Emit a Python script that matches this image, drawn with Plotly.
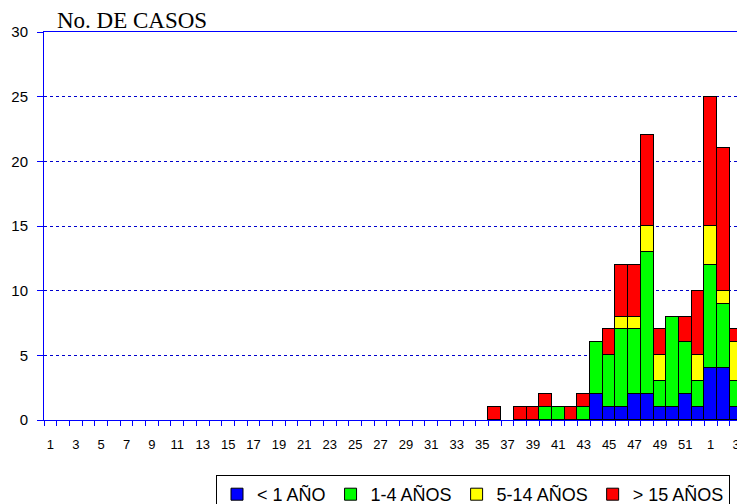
import plotly.graph_objects as go

week_labels = ["1", "2", "3", "4", "5", "6", "7", "8", "9", "10",
               "11", "12", "13", "14", "15", "16", "17", "18", "19", "20",
               "21", "22", "23", "24", "25", "26", "27", "28", "29", "30",
               "31", "32", "33", "34", "35", "36", "37", "38", "39", "40",
               "41", "42", "43", "44", "45", "46", "47", "48", "49", "50",
               "51", "52", "1", "2", "3"]

menos_1 = [0, 0, 0, 0, 0, 0, 0, 0, 0, 0,
           0, 0, 0, 0, 0, 0, 0, 0, 0, 0,
           0, 0, 0, 0, 0, 0, 0, 0, 0, 0,
           0, 0, 0, 0, 0, 0, 0, 0, 0, 0,
           0, 0, 0, 2, 1, 1, 2, 2, 1, 1,
           2, 1, 4, 4, 1]
de_1_4 = [0, 0, 0, 0, 0, 0, 0, 0, 0, 0,
          0, 0, 0, 0, 0, 0, 0, 0, 0, 0,
          0, 0, 0, 0, 0, 0, 0, 0, 0, 0,
          0, 0, 0, 0, 0, 0, 0, 0, 0, 1,
          1, 0, 1, 4, 4, 6, 5, 11, 2, 7,
          4, 2, 8, 5, 2]
de_5_14 = [0, 0, 0, 0, 0, 0, 0, 0, 0, 0,
           0, 0, 0, 0, 0, 0, 0, 0, 0, 0,
           0, 0, 0, 0, 0, 0, 0, 0, 0, 0,
           0, 0, 0, 0, 0, 0, 0, 0, 0, 0,
           0, 0, 0, 0, 0, 1, 1, 2, 2, 0,
           0, 2, 3, 1, 3]
mas_15 = [0, 0, 0, 0, 0, 0, 0, 0, 0, 0,
          0, 0, 0, 0, 0, 0, 0, 0, 0, 0,
          0, 0, 0, 0, 0, 0, 0, 0, 0, 0,
          0, 0, 0, 0, 0, 1, 0, 1, 1, 1,
          0, 1, 1, 0, 2, 4, 4, 7, 2, 0,
          2, 5, 10, 11, 1]

series = [
    ("< 1 AÑO", menos_1, "#0000FF"),
    ("1-4 AÑOS", de_1_4, "#00FF00"),
    ("5-14 AÑOS", de_5_14, "#FFFF00"),
    ("> 15 AÑOS", mas_15, "#FF0000"),
]

x = list(range(len(week_labels)))

fig = go.Figure()
for name, vals, color in series:
    fig.add_trace(go.Bar(
        x=x, y=[v if v else None for v in vals], name=name, width=1,
        marker=dict(color=color, line=dict(color="black", width=1)),
    ))

W, H = 737, 504
L, R, T, B = 44, 0, 32, 84
pw = W - L - R
ph = H - T - B

fig.update_layout(
    barmode="stack", bargap=0,
    width=W, height=H,
    margin=dict(l=L, r=R, t=T, b=B, pad=0, autoexpand=False),
    plot_bgcolor="white", paper_bgcolor="white",
    font=dict(family="Liberation Sans, Arial, sans-serif", color="black"),
    showlegend=True,
    legend=dict(
        orientation="h", traceorder="normal",
        x=(216 - L) / pw, y=(420 - 475) / ph, xanchor="left", yanchor="top",
        bordercolor="black", borderwidth=1,
        font=dict(family="Liberation Sans, Arial, sans-serif", size=18),
    ),
    annotations=[dict(
        text="No. DE CASOS", showarrow=False,
        xref="paper", yref="paper", x=(55 - L) / pw, y=1, yshift=-3,
        xanchor="left", yanchor="bottom",
        font=dict(family="Liberation Serif, Times New Roman, serif", size=23, color="black"),
    )],
)

fig.update_xaxes(
    range=[-0.5, 54.07],
    tickmode="array",
    tickvals=x[::2], ticktext=week_labels[::2],
    ticks="", showgrid=False, zeroline=False,
    showline=True, linecolor="#0000FF", linewidth=1, mirror=True,
    tickfont=dict(size=13), ticklabelstandoff=12, ticklabeloverflow="allow",
    minor=dict(ticks="outside", tickmode="linear", tick0=-0.5, dtick=1,
               ticklen=5, tickcolor="#0000FF", tickwidth=1, showgrid=False),
    automargin=False, fixedrange=True,
)
fig.update_yaxes(
    range=[0, 30], tickmode="linear", tick0=0, dtick=5,
    ticks="outside", ticklen=6, tickcolor="#0000FF",
    showline=True, linecolor="#0000FF", linewidth=1,
    showgrid=True, gridcolor="#0000CC", griddash="dot", gridwidth=1,
    zeroline=False, tickfont=dict(size=15), ticklabelstandoff=6,
    automargin=False, fixedrange=True,
)

fig.write_html("out.html", config={"displayModeBar": False},
               post_script="document.body.style.margin='0';document.body.style.overflow='hidden';")
